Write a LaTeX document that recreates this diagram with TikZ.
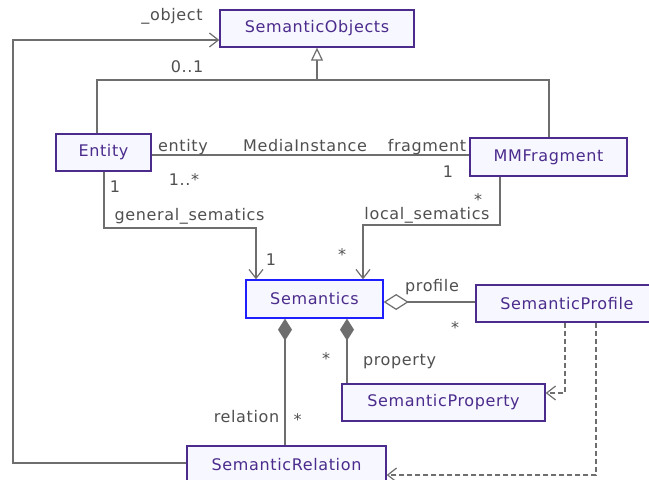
\documentclass[tikz,border=0pt]{standalone}
\usepackage{fontspec}
\setmainfont{DejaVu Sans}[LetterSpace=4]
\usetikzlibrary{arrows.meta}
\definecolor{cls}{HTML}{4B2C8C}
\definecolor{clsfill}{HTML}{F7F7FF}
\definecolor{semblue}{HTML}{1E1EFF}
\definecolor{ln}{HTML}{6E6E6E}
\definecolor{lbl}{HTML}{505050}
\tikzset{
  cbox/.style={draw=cls, fill=clsfill, line width=1.3pt, text=cls, inner sep=0pt,
    font=\fontsize{16}{18}\selectfont},
  conn/.style={draw=ln, line width=1.4pt},
  oarr/.style={-{Straight Barb[length=9pt,width=14pt,line width=1.2pt]}},
  gen/.style={-{Triangle[open,length=13pt,width=12pt,line width=1.2pt,fill=white]}},
  agg/.style={{Diamond[open,length=25pt,width=16pt,line width=1.2pt,fill=white]}-},
  comp/.style={{Diamond[length=22pt,width=14pt]}-},
  dep/.style={dash pattern=on 5pt off 3pt},
  lab/.style={text=lbl, inner sep=0pt, anchor=base, font=\fontsize{16}{18}\selectfont},
}
\begin{document}
\begin{tikzpicture}[x=1pt,y=-1pt]
\useasboundingbox (0,0) rectangle (649,480);
\fill[white] (0,0) rectangle (649,480);
\clip (0,0) rectangle (649,480);
% classes
\node[cbox, minimum width=194pt, minimum height=37pt] (SemanticObjects) at (317,28.5) {SemanticObjects};
\node[cbox, minimum width=95pt, minimum height=37pt] (Entity) at (103.5,152.5) {Entity};
\node[cbox, minimum width=157pt, minimum height=38pt] (MMFragment) at (548.5,157) {MMFragment};
\node[cbox, draw=semblue, minimum width=137pt, minimum height=38pt] (Semantics) at (314.5,299) {Semantics};
\node[cbox, minimum width=182pt, minimum height=37pt] (SemanticProfile) at (567,303.5) {SemanticProfile};
\node[cbox, minimum width=203pt, minimum height=37pt] (SemanticProperty) at (443.5,402.5) {SemanticProperty};
\node[cbox, minimum width=199pt, minimum height=38pt] (SemanticRelation) at (286.5,465) {SemanticRelation};
% bend points
\coordinate (gTop) at (317,80);
\coordinate (gL) at (97,80);
\coordinate (gR) at (549,80);
\coordinate (o1) at (13,463);
\coordinate (o2) at (13,40);
\coordinate (m) at (0,155);
\coordinate (g1) at (104,228);
\coordinate (g2) at (256,228);
\coordinate (l1) at (500,225);
\coordinate (l2) at (363,225);
\coordinate (p) at (0,302);
\coordinate (q) at (347,0);
\coordinate (r) at (285,0);
\coordinate (d1) at (565,393);
\coordinate (d2) at (596,475);
% generalization
\draw[conn] (Entity.north -| gL) -- (gL) -- (gR) -- (MMFragment.north -| gR);
\draw[conn, gen] (gTop) -- (SemanticObjects.south);
% _object
\draw[conn, oarr] (SemanticRelation.west |- o1) -- (o1) -- (o2) -- (SemanticObjects.west |- o2);
% MediaInstance
\draw[conn] (Entity.east |- m) -- (MMFragment.west |- m);
% general_sematics
\draw[conn, oarr] (Entity.south -| g1) -- (g1) -- (g2) -- (Semantics.north -| g2);
% local_sematics
\draw[conn, oarr] (MMFragment.south -| l1) -- (l1) -- (l2) -- (Semantics.north -| l2);
% profile
\draw[conn, agg] (Semantics.east |- p) -- (SemanticProfile.west |- p);
% property / relation
\draw[conn, comp, draw=ln, fill=ln] (Semantics.south -| q) -- (SemanticProperty.north -| q);
\draw[conn, comp, draw=ln, fill=ln] (Semantics.south -| r) -- (SemanticRelation.north -| r);
% dependencies
\draw[conn, dep, oarr] (SemanticProfile.south -| d1) -- (d1) -- (SemanticProperty.east |- d1);
\draw[conn, dep, oarr] (SemanticProfile.south -| d2) -- (d2) -- (SemanticRelation.east |- d2);
% labels
\node[lab] (lObject) at (172,20) {\_object};
\node[lab] (lZeroOne) at (187,72) {0..1};
\node[lab] (lEntity) at (183,151) {entity};
\node[lab] (lMedia) at (305,151) {MediaInstance};
\node[lab] (lFragment) at (427,151) {fragment};
\node[lab] (lOneMany) at (184,185) {1..*};
\node[lab] (lOneFrag) at (448,177) {1};
\node[lab] (lOneEnt) at (115,192) {1};
\node[lab] (lGeneral) at (189.5,220) {general\_sematics};
\node[lab] (lOneSem) at (271,265) {1};
\node[lab] (lStarFrag) at (478,205) {*};
\node[lab] (lLocal) at (427,219) {local\_sematics};
\node[lab] (lStarSem) at (342,260) {*};
\node[lab] (lProfile) at (432,291) {profile};
\node[lab] (lStarProf) at (455,333) {*};
\node[lab] (lStarProp) at (326,364) {*};
\node[lab] (lProperty) at (399.5,365) {property};
\node[lab] (lRelation) at (246.5,422) {relation};
\node[lab] (lStarRel) at (297.5,425) {*};
\end{tikzpicture}
\end{document}
